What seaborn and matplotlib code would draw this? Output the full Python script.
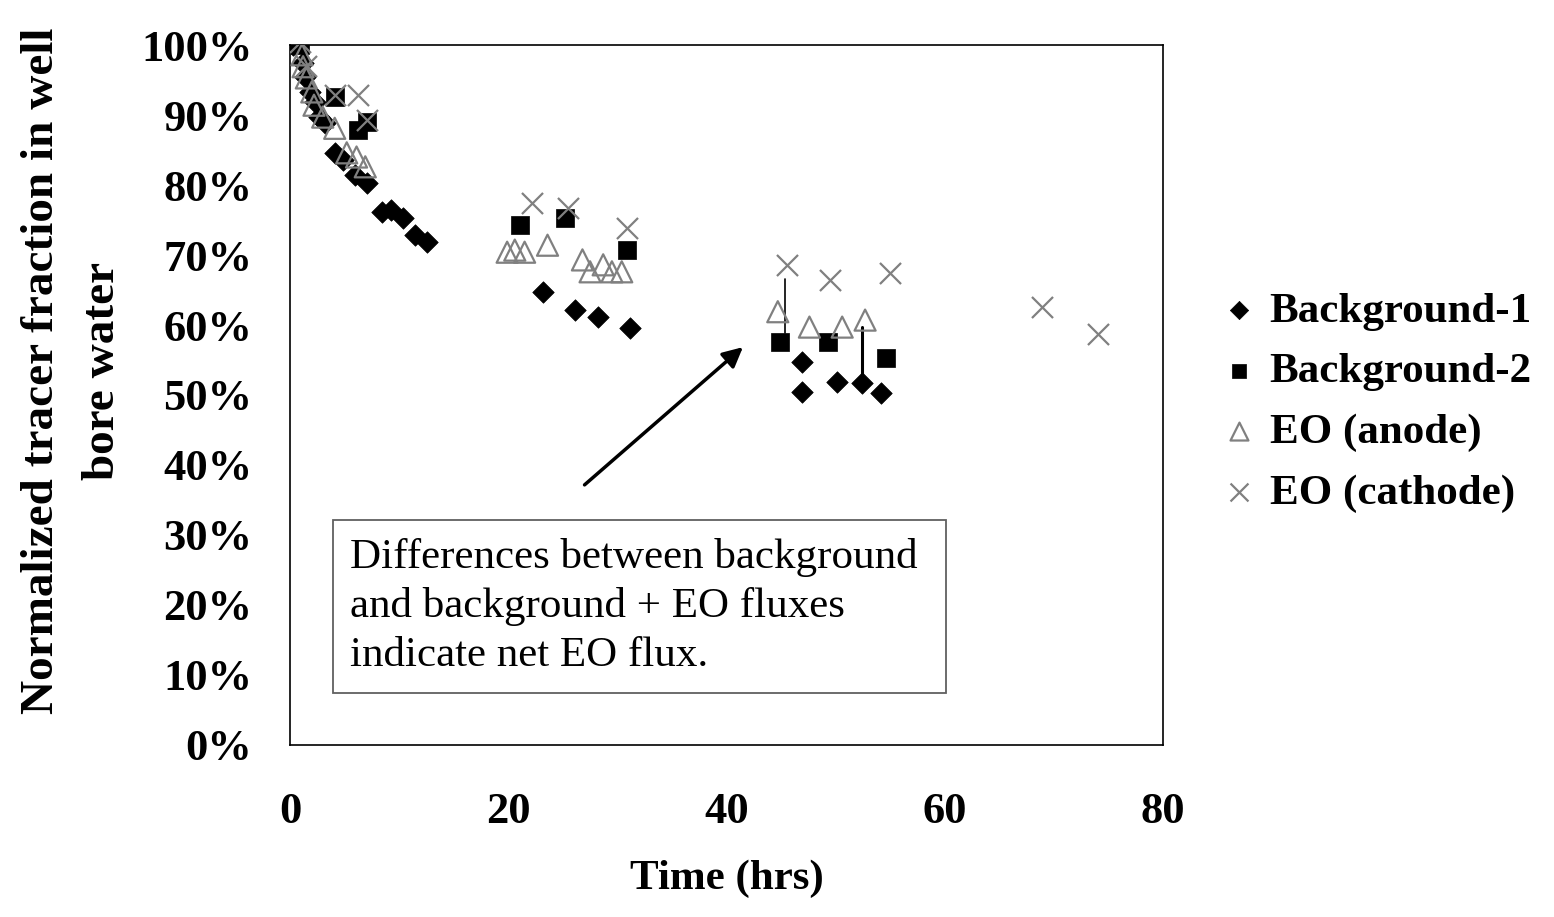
import numpy as np
import pandas as pd
import matplotlib
matplotlib.use('Agg')
import matplotlib.pyplot as plt
from matplotlib.patches import Rectangle
from matplotlib.ticker import PercentFormatter
import seaborn as sns

sns.set_style('white')
plt.rcParams['font.family'] = ['Liberation Serif', 'DejaVu Serif']
plt.rcParams['text.color'] = 'black'
plt.rcParams['axes.labelcolor'] = 'black'
plt.rcParams['xtick.color'] = 'black'
plt.rcParams['ytick.color'] = 'black'

# Background-1 (filled diamonds)
bg1_t = [0.3, 1.2, 1.4, 1.8, 2.3, 2.7, 3.2, 4.1, 4.9, 6.0, 7.1, 8.4, 9.3, 10.4, 11.5, 12.6,
         23.2, 26.1, 28.2, 31.2, 46.9, 46.9, 50.1, 52.4, 54.2]
bg1_y = [100.0, 97.4, 95.4, 93.3, 91.9, 89.7, 88.9, 84.6, 83.6, 81.4, 80.3, 76.1, 76.4, 75.3, 72.9, 71.9,
         64.7, 62.1, 61.1, 59.6, 54.7, 50.4, 51.9, 51.7, 50.3]

# Background-2 (filled squares)
bg2_t = [0.9, 4.1, 6.2, 7.1, 21.1, 25.2, 30.9, 44.9, 49.3, 54.6]
bg2_y = [100.0, 92.6, 87.9, 89.0, 74.3, 75.3, 70.7, 57.6, 57.6, 55.3]

# EO (anode) (open triangles)
an_t = [1.1, 1.2, 1.5, 2.0, 2.2, 3.0, 4.1, 5.2, 6.1, 6.9,
        19.9, 20.6, 21.5, 23.6, 26.8, 27.5, 28.7, 29.5, 30.4,
        44.7, 47.6, 50.6, 52.7]
an_y = [98.6, 96.9, 95.3, 93.3, 91.4, 89.7, 88.1, 84.6, 84.0, 82.6,
        70.4, 70.7, 70.4, 71.4, 69.3, 67.6, 68.6, 67.6, 67.6,
        61.9, 59.7, 59.7, 60.7]

# EO (cathode) (crosses)
ca_t = [0.9, 1.5, 4.1, 6.2, 7.1, 22.2, 25.5, 30.9, 45.5, 49.5, 55.0, 68.9, 74.0]
ca_y = [100.4, 97.0, 92.9, 92.9, 89.3, 77.4, 76.7, 73.9, 68.6, 66.4, 67.4, 62.6, 58.7]

fig = plt.figure(figsize=(15.54, 9.17), dpi=100)
ax = fig.add_axes([0.1866, 0.1876, 0.5618, 0.7633])

grey = '#808080'
sns.scatterplot(x=bg1_t, y=bg1_y, marker='D', s=120, color='black', edgecolor='black',
                linewidth=0.5, label='Background-1', ax=ax, zorder=3)
sns.scatterplot(x=bg2_t, y=bg2_y, marker='s', s=150, color='black', edgecolor='black',
                linewidth=0.5, label='Background-2', ax=ax, zorder=3)
sns.scatterplot(x=an_t, y=an_y, marker='^', s=230, facecolors='none', edgecolor=grey,
                linewidth=1.6, label='EO (anode)', ax=ax, zorder=4)
sns.scatterplot(x=ca_t, y=ca_y, marker='x', s=230, color=grey,
                linewidth=1.6, label='EO (cathode)', ax=ax, zorder=4)

# difference bars
ax.plot([45.4, 45.4], [58.9, 66.6], color='black', lw=1.2, zorder=2)
ax.plot([52.4, 52.4], [52.9, 59.7], color='black', lw=2.2, zorder=2)

# arrow
ax.annotate('', xy=(41.7, 57.1), xytext=(26.8, 36.9),
            arrowprops=dict(arrowstyle='-|>', color='black', lw=2.5, mutation_scale=30))

# text box
ax.add_patch(Rectangle((3.9, 7.4), 56.2, 24.7, facecolor='white', edgecolor='#606060', lw=1.3, zorder=5))
ax.text(5.5, 29.5, 'Differences between background\nand background + EO fluxes\nindicate net EO flux.',
        fontsize=31, va='top', ha='left', linespacing=1.33, zorder=6)

ax.set_xlim(0, 80)
ax.set_ylim(0, 100)
ax.set_xticks([0, 20, 40, 60, 80])
ax.set_yticks(np.arange(0, 101, 10))
ax.yaxis.set_major_formatter(PercentFormatter(decimals=0))
ax.tick_params(axis='both', direction='out', length=10, width=1.2, labelsize=32, colors='black')
ax.tick_params(axis='y', pad=17)
ax.tick_params(axis='x', pad=24)
for lab in ax.get_xticklabels() + ax.get_yticklabels():
    lab.set_fontweight('bold')
for sp in ax.spines.values():
    sp.set_visible(True)
    sp.set_color('black')
    sp.set_linewidth(1.2)

ax.set_xlabel('Time (hrs)', fontsize=31, fontweight='bold', labelpad=20)
ax.set_ylabel('Normalized tracer fraction in well\nbore water', fontsize=34, fontweight='bold',
              linespacing=1.6)
ax.yaxis.set_label_coords(-0.19, 0.535)

leg = ax.legend(loc='center left', bbox_to_anchor=(1.058, 0.49), frameon=False,
                prop={'weight': 'bold', 'size': 31}, handletextpad=0.1, handlelength=1.2,
                labelspacing=0.5, markerscale=0.85, borderaxespad=0, borderpad=0)
for t in leg.get_texts():
    t.set_color('black')

fig.savefig('out.png', dpi=100)
